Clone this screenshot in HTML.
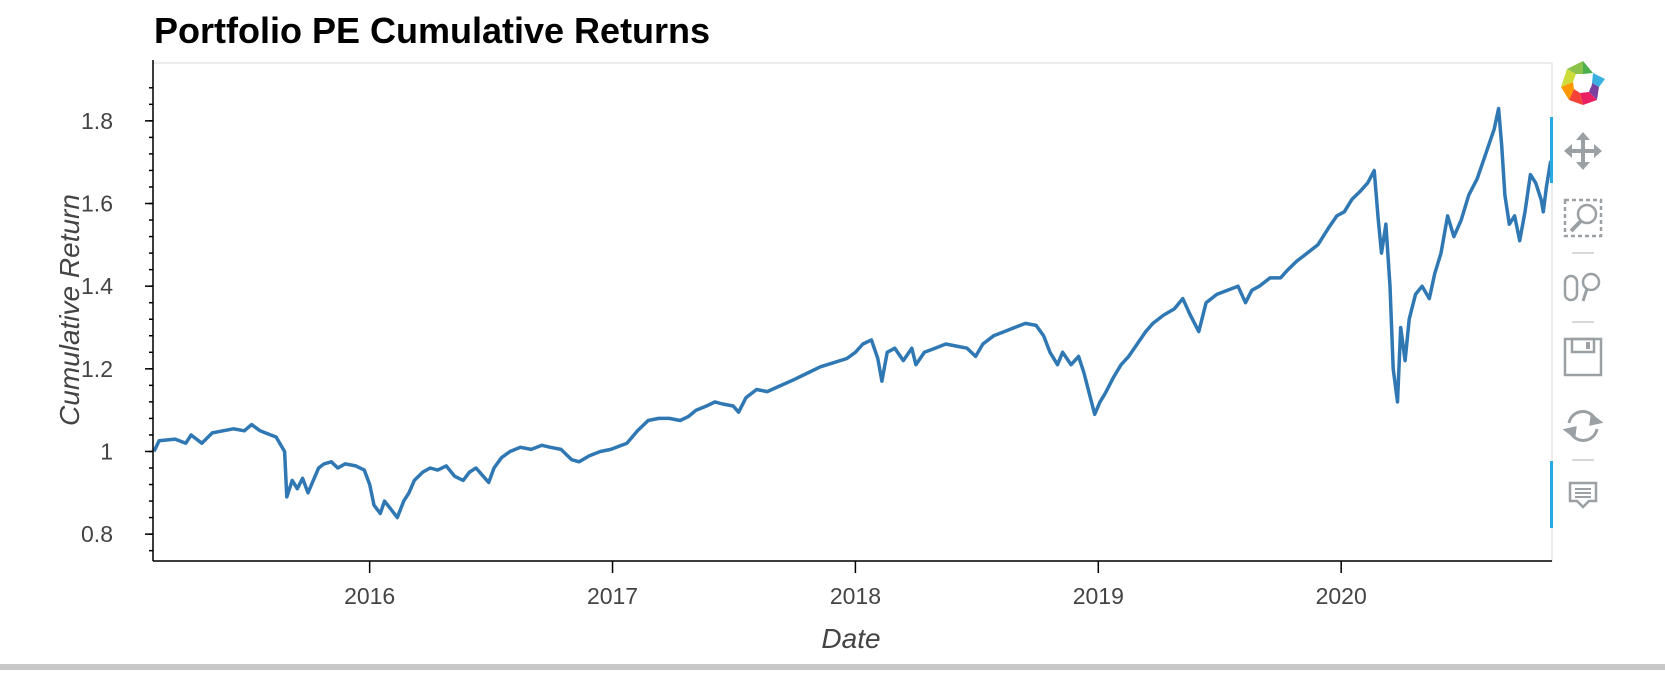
<!DOCTYPE html>
<html><head><meta charset="utf-8"><style>
body{margin:0;background:#fff;width:1665px;height:670px;overflow:hidden;font-family:"Liberation Sans",Arial,sans-serif}
</style></head><body>
<svg id="chart" width="1665" height="670" xmlns="http://www.w3.org/2000/svg">
<text x="154" y="43" font-size="36" font-weight="bold" fill="#000" font-family="Liberation Sans, sans-serif">Portfolio PE Cumulative Returns</text>
<rect x="153" y="63" width="1399" height="498" fill="#fff" stroke="#e5e5e5" stroke-width="1.5"/>
<g id="lineG"></g>
<g id="axes"></g>
<text transform="translate(79,310) rotate(-90)" text-anchor="middle" font-size="28" font-style="italic" fill="#444">Cumulative Return</text>
<text x="851" y="648" text-anchor="middle" font-size="28" font-style="italic" fill="#444">Date</text>
<rect x="1550" y="117" width="3" height="66" fill="#26aae1"/>
<rect x="1550" y="461" width="3" height="67" fill="#26aae1"/>
<g>
 <g transform="translate(1583,83)">
  <path d="M0,-22 L10,-10 L0,-9Z" fill="#4caf50"/><path d="M10,-10 L22,-4 L16,4 L9,0Z" fill="#3ab0e2"/>
  <path d="M9,0 L16,4 L14,17 L6,9Z" fill="#7b3fa0"/><path d="M6,9 L14,17 L0,22 L-3,10Z" fill="#e91e63"/>
  <path d="M-3,10 L0,22 L-14,17 L-9,6Z" fill="#f44336"/><path d="M-9,6 L-14,17 L-22,4 L-10,-1Z" fill="#ff9800"/>
  <path d="M-10,-1 L-22,4 L-16,-14 L-7,-9Z" fill="#cddc39"/><path d="M-7,-9 L-16,-14 L0,-22 L0,-9Z" fill="#8bc34a"/>
  <circle r="9" fill="#fff"/>
 </g>
 <g fill="#9aa0a4" transform="translate(1583,151)">
  <path d="M0,-19 L7,-11 L2,-11 L2,-2 L11,-2 L11,-7 L19,0 L11,7 L11,2 L2,2 L2,11 L7,11 L0,19 L-7,11 L-2,11 L-2,2 L-11,2 L-11,7 L-19,0 L-11,-7 L-11,-2 L-2,-2 L-2,-11 L-7,-11Z"/>
 </g>
 <g stroke="#9aa0a4" fill="none" stroke-width="2.5" transform="translate(1583,218)">
  <rect x="-18" y="-18" width="36" height="36" stroke-dasharray="4,3"/>
  <circle cx="4" cy="-4" r="9" fill="#fff"/><line x1="-2" y1="3" x2="-12" y2="13" stroke-width="4"/>
 </g>
 <line x1="1572" y1="253" x2="1594" y2="253" stroke="#ccc" stroke-width="1.5"/>
 <g stroke="#9aa0a4" fill="none" stroke-width="2.5" transform="translate(1583,287)">
  <rect x="-18" y="-11" width="12" height="24" rx="6"/>
  <circle cx="8" cy="-5" r="8"/><line x1="4" y1="2" x2="0" y2="14" stroke-width="3"/>
 </g>
 <line x1="1572" y1="322" x2="1594" y2="322" stroke="#ccc" stroke-width="1.5"/>
 <g stroke="#9aa0a4" fill="none" stroke-width="2.5" transform="translate(1583,357)">
  <rect x="-18" y="-18" width="36" height="36"/><rect x="-11" y="-18" width="22" height="13"/>
  <rect x="3" y="-15" width="4" height="7" fill="#9aa0a4" stroke="none"/>
 </g>
 <g stroke="#9aa0a4" fill="none" stroke-width="3" transform="translate(1583,426)">
  <path d="M-14,-3 A14,14 0 0 1 13,-5"/><path d="M14,3 A14,14 0 0 1 -13,5"/>
  <path d="M9,-10 L17,-4 L8,-2Z" fill="#9aa0a4"/><path d="M-9,10 L-17,4 L-8,2Z" fill="#9aa0a4"/>
 </g>
 <line x1="1572" y1="460" x2="1594" y2="460" stroke="#ccc" stroke-width="1.5"/>
 <g stroke="#9aa0a4" fill="none" stroke-width="2.5" transform="translate(1583,494)">
  <path d="M-13,-11 L13,-11 L13,7 L6,7 L0,13 L-6,7 L-13,7Z"/>
  <line x1="-8" y1="-5" x2="8" y2="-5" stroke-width="2"/><line x1="-8" y1="-1" x2="8" y2="-1" stroke-width="2"/><line x1="-8" y1="3" x2="8" y2="3" stroke-width="2"/>
 </g>
</g>
<rect x="0" y="664" width="1665" height="6" fill="#c8c8c8"/>
</svg>
<script>
const dates=[2015.112,2015.133,2015.199,2015.243,2015.265,2015.309,2015.352,2015.396,2015.440,2015.484,2015.514,2015.549,2015.593,2015.615,2015.650,2015.659,2015.681,2015.702,2015.724,2015.746,2015.768,2015.790,2015.812,2015.842,2015.869,2015.899,2015.943,2015.978,2016.000,2016.018,2016.044,2016.061,2016.088,2016.114,2016.140,2016.162,2016.184,2016.219,2016.249,2016.280,2016.315,2016.350,2016.385,2016.411,2016.438,2016.468,2016.490,2016.512,2016.543,2016.578,2016.621,2016.665,2016.709,2016.744,2016.788,2016.832,2016.862,2016.906,2016.950,2016.993,2017.059,2017.103,2017.147,2017.190,2017.234,2017.278,2017.313,2017.344,2017.387,2017.422,2017.453,2017.497,2017.519,2017.549,2017.593,2017.637,2017.694,2017.751,2017.803,2017.856,2017.912,2017.965,2018.000,2018.031,2018.066,2018.092,2018.109,2018.131,2018.162,2018.197,2018.232,2018.249,2018.284,2018.328,2018.372,2018.416,2018.460,2018.495,2018.525,2018.569,2018.613,2018.656,2018.700,2018.744,2018.775,2018.801,2018.832,2018.853,2018.888,2018.919,2018.941,2018.963,2018.985,2019.007,2019.028,2019.063,2019.094,2019.125,2019.160,2019.195,2019.225,2019.269,2019.313,2019.348,2019.379,2019.414,2019.444,2019.488,2019.532,2019.575,2019.606,2019.632,2019.663,2019.707,2019.750,2019.781,2019.816,2019.860,2019.904,2019.947,2019.982,2020.013,2020.044,2020.079,2020.109,2020.136,2020.153,2020.166,2020.184,2020.201,2020.214,2020.232,2020.245,2020.263,2020.280,2020.306,2020.333,2020.363,2020.385,2020.411,2020.438,2020.464,2020.494,2020.525,2020.560,2020.595,2020.630,2020.648,2020.661,2020.674,2020.692,2020.714,2020.735,2020.757,2020.779,2020.801,2020.823,2020.832,2020.845,2020.862,2020.871];
const returns=[1.0,1.026,1.03,1.02,1.04,1.02,1.045,1.05,1.055,1.05,1.065,1.05,1.04,1.035,1.0,0.89,0.93,0.91,0.935,0.9,0.93,0.96,0.97,0.975,0.96,0.97,0.965,0.955,0.92,0.87,0.85,0.88,0.86,0.84,0.88,0.9,0.93,0.95,0.96,0.955,0.965,0.94,0.93,0.95,0.96,0.94,0.925,0.96,0.985,1.0,1.01,1.005,1.015,1.01,1.005,0.98,0.975,0.99,1.0,1.005,1.02,1.05,1.075,1.08,1.08,1.075,1.085,1.1,1.11,1.12,1.115,1.11,1.095,1.13,1.15,1.145,1.16,1.175,1.19,1.205,1.215,1.225,1.24,1.26,1.27,1.225,1.17,1.24,1.25,1.22,1.25,1.21,1.24,1.25,1.26,1.255,1.25,1.23,1.26,1.28,1.29,1.3,1.31,1.305,1.28,1.24,1.21,1.24,1.21,1.23,1.19,1.14,1.09,1.12,1.14,1.18,1.21,1.23,1.26,1.29,1.31,1.33,1.345,1.37,1.33,1.29,1.36,1.38,1.39,1.4,1.36,1.39,1.4,1.42,1.42,1.44,1.46,1.48,1.5,1.54,1.57,1.58,1.61,1.63,1.65,1.68,1.56,1.48,1.55,1.4,1.2,1.12,1.3,1.22,1.32,1.38,1.4,1.37,1.43,1.48,1.57,1.52,1.56,1.62,1.66,1.72,1.78,1.83,1.74,1.62,1.55,1.57,1.51,1.58,1.67,1.65,1.61,1.58,1.64,1.7,1.68];
const yTicks=[0.8,1.0,1.2,1.4,1.6,1.8];
const yTickLabels=["0.8","1","1.2","1.4","1.6","1.8"];
const xTicks=[2016,2017,2018,2019,2020];
const xTickLabels=["2016","2017","2018","2019","2020"];

const L=153,R=1552,T=63,B=561;
const x0=2015.108,x1=2020.868,y0=0.735,y1=1.94;
const xs=v=>L+(v-x0)/(x1-x0)*(R-L);
const ys=v=>B-(v-y0)/(y1-y0)*(B-T);
const NS="http://www.w3.org/2000/svg";
function mk(tag,attrs,parent){const e=document.createElementNS(NS,tag);for(const k in attrs)e.setAttribute(k,attrs[k]);parent.appendChild(e);return e;}

const lineG=document.getElementById('lineG');
const cp=mk('clipPath',{id:'clip'},lineG);mk('rect',{x:L,y:T,width:R-L,height:B-T},cp);
const d=dates.map((t,i)=>(i?'L':'M')+xs(t).toFixed(1)+','+ys(returns[i]).toFixed(1)).join(' ');
const path=mk('path',{d:d,fill:'none',stroke:'#2f78b4','stroke-width':3.5,'stroke-linejoin':'round','clip-path':'url(#clip)'},lineG);



const ax=document.getElementById('axes');
const yl=mk('line',{x1:L,y1:T-3,x2:L,y2:B,stroke:'#000','stroke-width':1.5},ax);


const xl=mk('line',{x1:L,y1:B,x2:R,y2:B,stroke:'#000','stroke-width':1.5},ax);


for(let v=0.76;v<=1.92;v+=0.04){const y=ys(v);if(y<T-3||y>B)continue;
 const m=mk('line',{x1:L-4,y1:y,x2:L,y2:y,stroke:'#000','stroke-width':1.5},ax);
 
 }
yTicks.forEach((v,i)=>{const y=ys(v);
 const t=mk('line',{x1:L-8,y1:y,x2:L,y2:y,stroke:'#000','stroke-width':1.5},ax);
 
 
 const tx=mk('text',{x:L-40,y:y+8,'text-anchor':'end','font-size':23,fill:'#444'},ax);tx.textContent=yTickLabels[i];
 
 });
xTicks.forEach((v,i)=>{const x=xs(v);
 const t=mk('line',{x1:x,y1:B,x2:x,y2:B+12,stroke:'#000','stroke-width':1.5},ax);
 
 
 const tx=mk('text',{x:x,y:B+43,'text-anchor':'middle','font-size':23,fill:'#444'},ax);tx.textContent=xTickLabels[i];
 
 });
</script>
</body></html>
